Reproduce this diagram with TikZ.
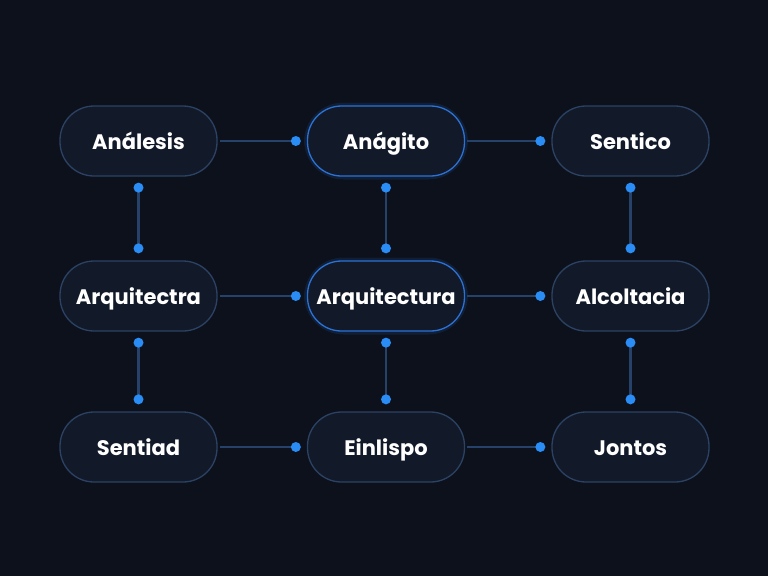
\documentclass[tikz,border=0pt]{standalone}
\usepackage{fontspec}
\setmainfont{Poppins}
\usetikzlibrary{calc}
\definecolor{bg}{HTML}{0C111B}
\definecolor{nodefill}{HTML}{121A2A}
\definecolor{nodeedge}{HTML}{2C4264}
\definecolor{hiedge}{HTML}{2C72D6}
\definecolor{wire}{HTML}{27426A}
\definecolor{dotc}{HTML}{2A8CF5}
\tikzset{
  x=1pt, y=-1pt,
  box/.style={draw=nodeedge, line width=1.3pt, fill=nodefill, rounded corners=34pt,
    minimum width=157pt, minimum height=70pt, text=white,
    font=\bfseries\fontsize{21}{24}\selectfont, inner sep=0pt,
    text height=18pt, text depth=2pt},
  hibox/.style={box, draw=hiedge},
  glow/.style={draw=hiedge, opacity=0.15, line width=7pt, rounded corners=36pt},
  wireline/.style={draw=wire, line width=2.6pt},
  dotmark/.style={fill=dotc},
}
\begin{document}
\begin{tikzpicture}
\fill[bg] (0,0) rectangle (768,576);
\useasboundingbox (0,0) rectangle (768,576);
% glows for highlighted nodes
\draw[glow] (307.5,106) rectangle (464.5,176);
\draw[glow] (307.5,261) rectangle (464.5,331);
% nodes
\node[box]   (n11) at (138.5,141) {Análesis};
\node[hibox] (n12) at (386,141) {Anágito};
\node[box]   (n13) at (630.5,141) {Sentico};
\node[box]   (n21) at (138.5,296) {Arquitectra};
\node[hibox] (n22) at (386,296) {Arquitectura};
\node[box]   (n23) at (630.5,296) {Alcoltacia};
\node[box]   (n31) at (138.5,447) {Sentiad};
\node[box]   (n32) at (386,447) {Einlispo};
\node[box]   (n33) at (630.5,447) {Jontos};
% horizontal connector ends
\foreach \a/\b in {n11/n12,n12/n13,n21/n22,n22/n23,n31/n32,n32/n33}{
  \coordinate (h\a) at ($(\a.east)+(2,0)$);
  \coordinate (d\a\b) at ($(\b.west)+(-11,0)$);
  \draw[wireline] (h\a) -- (d\a\b);
  \fill[dotmark] (d\a\b) circle (5pt);
}
% vertical connectors
\foreach \a/\b in {n11/n21,n12/n22,n13/n23,n21/n31,n22/n32,n23/n33}{
  \coordinate (t\a\b) at ($(\a.south)+(0,11)$);
  \coordinate (b\a\b) at ($(\b.north)+(0,-12)$);
  \draw[wireline] (t\a\b) -- (b\a\b);
  \fill[dotmark] (t\a\b) circle (5pt);
  \fill[dotmark] (b\a\b) circle (5pt);
}
\end{tikzpicture}
\end{document}
